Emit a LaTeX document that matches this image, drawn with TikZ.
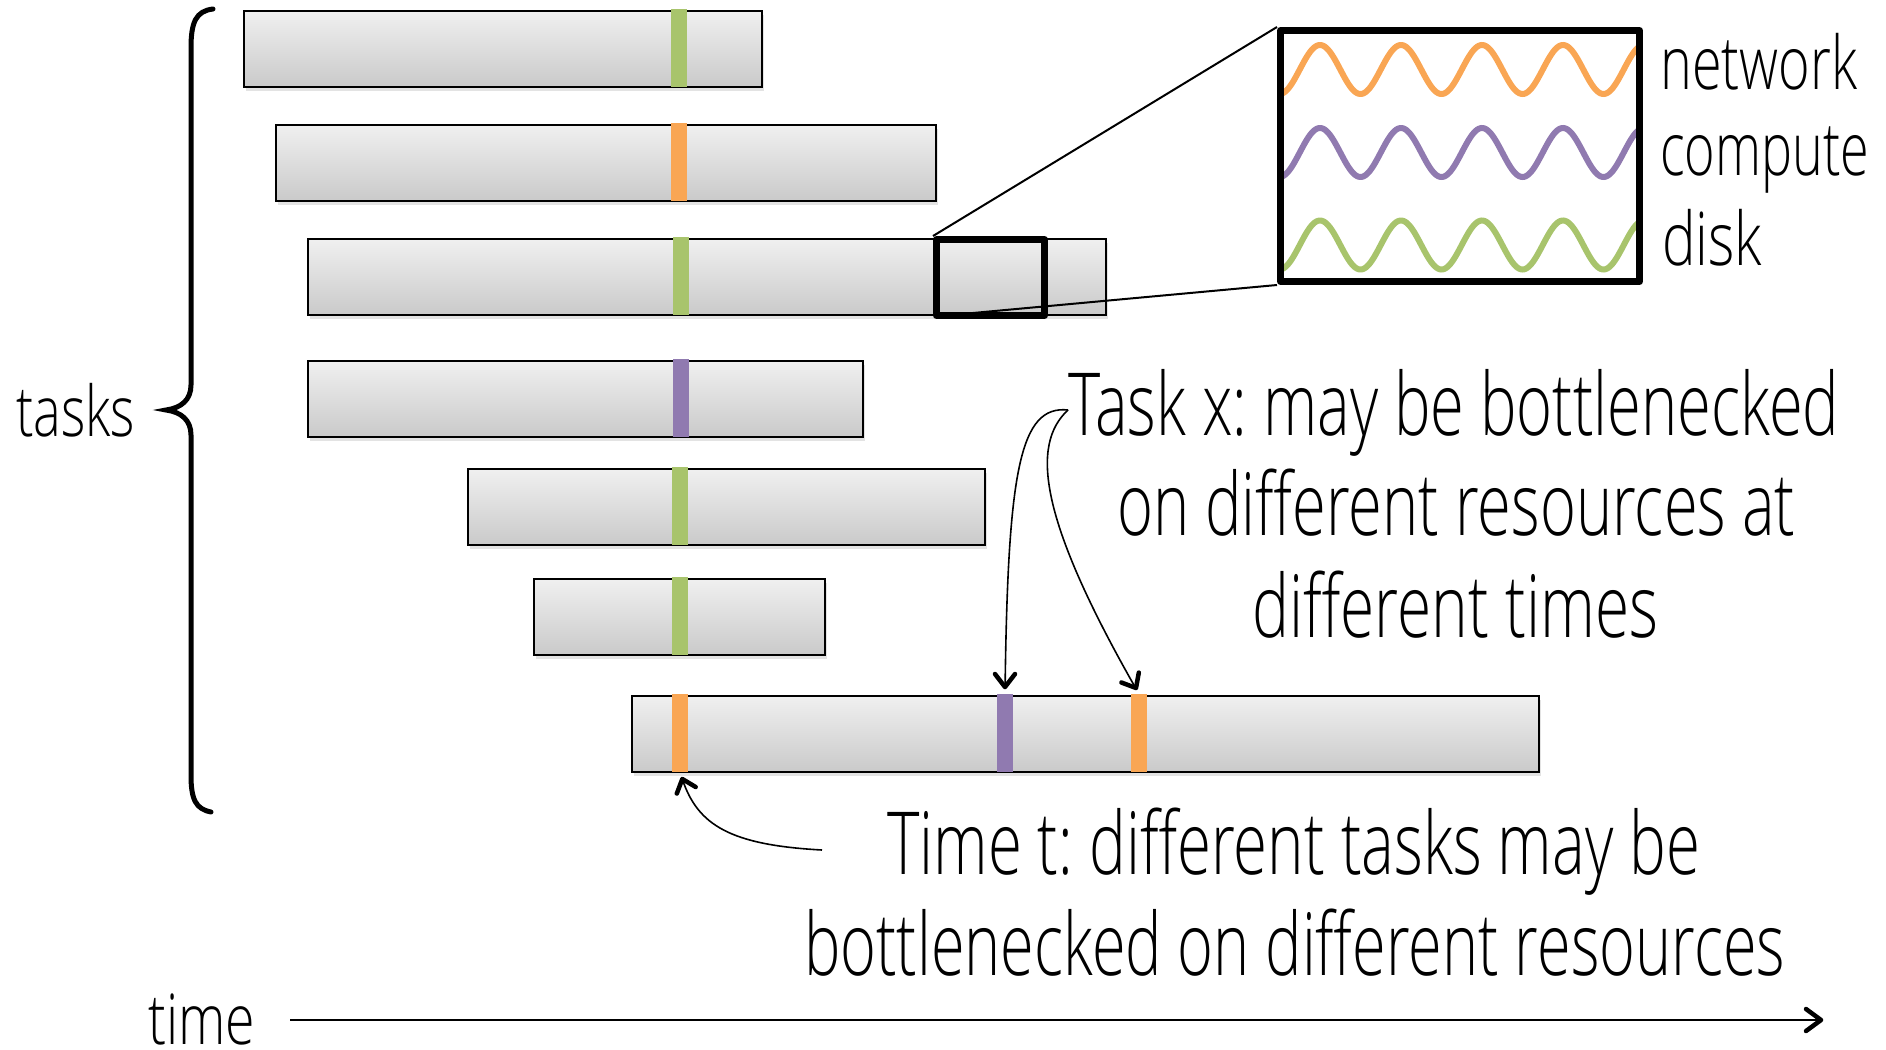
\documentclass[tikz,border=0pt]{standalone}
\usepackage{fontspec}
\usepackage{graphicx}
\setmainfont{Open Sans}[UprightFont={* Light}]
\usetikzlibrary{shadows,calc}

\definecolor{resgreen}{RGB}{168,196,108}
\definecolor{resorange}{RGB}{249,166,84}
\definecolor{respurple}{RGB}{144,122,176}

% squeeze a line of text to a given width, keeping its height
\newcommand\narrowtext[2]{\resizebox{#1pt}{\height}{#2}}
\frenchspacing

\begin{document}
\begin{tikzpicture}[x=1pt,y=-1pt,
  taskbar/.style={rectangle, draw=black, line width=2.3pt, inner sep=0pt,
    top color=gray!12, bottom color=gray!42, anchor=north west,
    minimum height=76pt,
    drop shadow={shadow xshift=2pt, shadow yshift=-4pt, opacity=0.22}},
  marker/.style={rectangle, draw=none, inner sep=0pt, anchor=north,
    minimum width=16pt, minimum height=78pt},
  zoombox/.style={rectangle, draw=black, line width=7pt, inner sep=0pt,
    line join=round},
  wave/.style={line width=6pt, line cap=round},
  bigtext/.style={anchor=base west, inner sep=0pt, font=\fontsize{87}{100}\selectfont},
  labeltext/.style={anchor=base west, inner sep=0pt, font=\fontsize{74}{80}\selectfont},
  axistext/.style={anchor=base west, inner sep=0pt, font=\fontsize{70}{80}\selectfont},
  pointer/.style={line width=1.6pt},
  % heavy open arrow head drawn as a V
  vhead/.style={line width=4.5pt, line cap=round, line join=round},
]
\useasboundingbox (0,0) rectangle (1886,1049);

% task bars
\node[taskbar, minimum width=518pt] (b1) at (243,10) {};
\node[taskbar, minimum width=660pt] (b2) at (275,124) {};
\node[taskbar, minimum width=798pt] (b3) at (307,238) {};
\node[taskbar, minimum width=555pt] (b4) at (307,360) {};
\node[taskbar, minimum width=517pt] (b5) at (467,468) {};
\node[taskbar, minimum width=291pt] (b6) at (533,578) {};
\node[taskbar, minimum width=907pt] (b7) at (631,695) {};

% resource markers on the bars
\node[marker, fill=resgreen]  (m1)  at (679,9)   {};
\node[marker, fill=resorange] (m2)  at (679,123) {};
\node[marker, fill=resgreen]  (m3)  at (681,237) {};
\node[marker, fill=respurple] (m4)  at (681,359) {};
\node[marker, fill=resgreen]  (m5)  at (680,467) {};
\node[marker, fill=resgreen]  (m6)  at (680,577) {};
\node[marker, fill=resorange] (m7a) at (680,694) {};
\node[marker, fill=respurple] (m7b) at (1005,694) {};
\node[marker, fill=resorange] (m7c) at (1139,694) {};

% zoomed-in window
\node[zoombox, minimum width=108pt, minimum height=76pt] (zs) at (990.5,277.5) {};
\begin{scope}
  \clip (1284,34) rectangle (1636,278);
  \draw[wave, resorange] plot[domain=1280:1640, samples=240, smooth]
    (\x, {69.5 - 24.5*cos(4.4444*(\x-1320))});
  \draw[wave, respurple] plot[domain=1280:1640, samples=240, smooth]
    (\x, {152.5 - 24.5*cos(4.4444*(\x-1320))});
  \draw[wave, resgreen] plot[domain=1280:1640, samples=240, smooth]
    (\x, {245 - 24.5*cos(4.4444*(\x-1320))});
\end{scope}
\node[zoombox, minimum width=359pt, minimum height=251pt] (zb) at (1460,156) {};
\coordinate (zsb) at (962,314);
\draw[line width=2pt] (zs.north west) -- (zb.north west);
\draw[line width=2pt] (zsb) -- (zb.south west);

\node[labeltext] (lnet)  at (1660,89)  {\narrowtext{197}{network}};
\node[labeltext] (lcomp) at (1660,175) {\narrowtext{209}{compute}};
\node[labeltext] (ldisk) at (1662,265) {\narrowtext{100}{disk}};

% brace and axis labels
\draw[line width=5pt, line cap=round]
  (213,9) .. controls (196,11) and (191,22) .. (191,48)
  -- (191,385) .. controls (191,400) and (181,408) .. (166,410)
  .. controls (181,412) and (191,420) .. (191,435)
  -- (191,775) .. controls (191,800) and (196,809) .. (211,812);
\node[axistext] (ltasks) at (16,436) {\narrowtext{119}{tasks}};
\node[axistext] (ltime)  at (148,1044) {\narrowtext{107}{time}};
\coordinate (axs) at (290,1020);
\coordinate (axe) at (1821,1020);
\draw[line width=2.5pt] (axs) -- (axe);
\draw[vhead] ($(axe)+(-15,-11)$) -- (axe) -- ($(axe)+(-15,11)$);

% annotation: task x
\node[bigtext] (tx1) at (1068,435) {\narrowtext{771}{Task x: may be bottlenecked}};
\node[bigtext] (tx2) at (1117,535) {\narrowtext{678}{on different resources at}};
\node[bigtext] (tx3) at (1252,637) {\narrowtext{406}{different times}};
\coordinate (txs) at (1068,410);
\coordinate (tipb) at ($(m7b.north)+(0,-7)$);
\coordinate (tipc) at ($(m7c.north)+(-3,-6)$);
\draw[pointer, shorten >=8pt] (txs) .. controls (1020,405) and (1008,470) .. (m7b.north);
\draw[pointer, shorten >=8pt] (txs) .. controls (1030,445) and (1040,520) .. (m7c.north);
\draw[vhead] ($(tipb)+(-10,-13)$) -- (tipb) -- ($(tipb)+(10,-13)$);
\draw[vhead] ($(tipc)+(2.8,-15.4)$) -- (tipc) -- ($(tipc)+(-14.6,-5.5)$);

% annotation: time t
\node[bigtext] (tt1) at (887,874) {\narrowtext{813}{Time t: different tasks may be}};
\node[bigtext] (tt2) at (804,975) {\narrowtext{981}{bottlenecked on different resources}};
\coordinate (tts) at (822,850);
\coordinate (tipa) at ($(m7a.south)+(2.3,6.6)$);
\draw[pointer, shorten >=8pt] (tts) .. controls (730,845) and (698,825) .. (m7a.south);
\draw[vhead] ($(tipa)+(13.4,8.0)$) -- (tipa) -- ($(tipa)+(-5.5,14.6)$);
\end{tikzpicture}
\end{document}
